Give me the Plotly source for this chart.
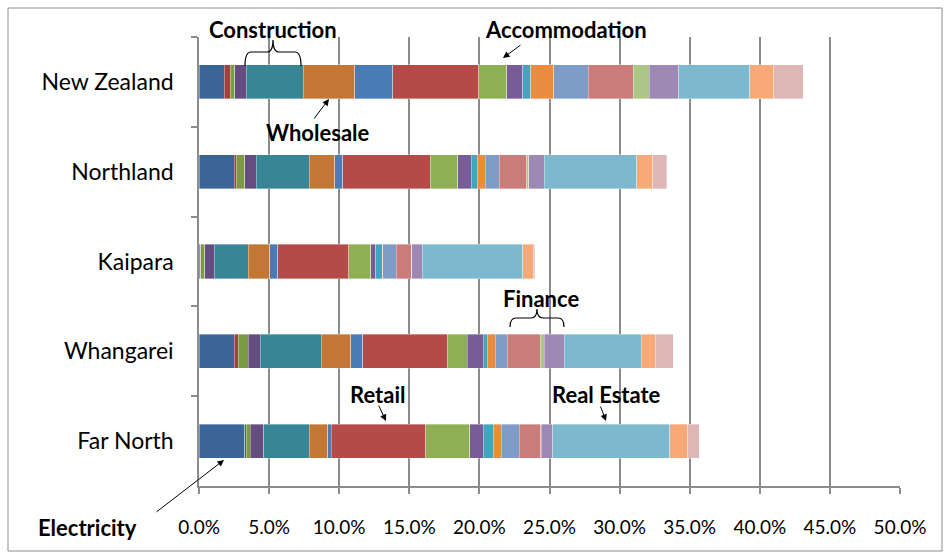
import plotly.graph_objects as go

# ---- data (percent share, stacked left -> right) ----
regions = ["New Zealand", "Northland", "Kaipara", "Whangarei", "Far North"]
industries = ["Electricity", "Industry 2", "Industry 3", "Industry 4", "Construction",
              "Wholesale", "Industry 7", "Retail", "Accommodation", "Industry 10",
              "Industry 11", "Industry 12", "Industry 13", "Finance", "Industry 15",
              "Finance (2)", "Real Estate", "Industry 18", "Industry 19"]
new_zealand = [1.80, 0.43, 0.31, 0.83, 4.06, 3.69, 2.69, 6.15, 1.99, 1.14, 0.57, 1.64, 2.45, 3.21, 1.16, 2.11, 5.04, 1.71, 2.12]
northland   = [2.52, 0.14, 0.60, 0.82, 3.78, 1.83, 0.57, 6.23, 1.97, 0.95, 0.43, 0.59, 0.97, 1.98, 0.14, 1.09, 6.61, 1.16, 1.00]
kaipara     = [0.10, 0.02, 0.29, 0.68, 2.42, 1.53, 0.59, 5.04, 1.57, 0.38, 0.44, 0.04, 0.96, 1.10, 0.02, 0.74, 7.17, 0.74, 0.12]
whangarei   = [2.52, 0.28, 0.71, 0.86, 4.35, 2.11, 0.84, 6.08, 1.40, 1.11, 0.29, 0.57, 0.85, 2.36, 0.31, 1.40, 5.49, 1.00, 1.29]
far_north   = [3.26, 0.11, 0.29, 0.97, 3.23, 1.31, 0.26, 6.75, 3.14, 0.94, 0.72, 0.57, 1.28, 1.53, 0.05, 0.82, 8.34, 1.28, 0.84]
x_ticks = [0, 5, 10, 15, 20, 25, 30, 35, 40, 45, 50]

colors = ["#3B6497", "#A2403D", "#7A9A44", "#654D80", "#388596", "#C37735", "#4A7BB5",
          "#B44B48", "#8FAF54", "#775C99", "#46A3BB", "#E98C3E", "#7E9CC8", "#C97C7A",
          "#ADC687", "#9D89B4", "#7DB9CE", "#F7A978", "#DEB6B6"]

rows = [new_zealand, northland, kaipara, whangarei, far_north]

W, H = 945, 559
L, R, T, B = 199, 900, 37, 486
FONT = "Lato"

fig = go.Figure()
for i, name in enumerate(industries):
    fig.add_trace(go.Bar(
        y=regions, x=[r[i] for r in rows], orientation="h", name=name,
        marker=dict(color=colors[i], line=dict(color="rgba(255,255,255,0.45)", width=0.8)),
        hoverinfo="x+y+name",
    ))

def px(x):
    return (x - L) / (R - L)

def py(y):
    return (B - y) / (B - T)

def brace(x0, x1, yb, yh, yt):
    xm = (x0 + x1) / 2
    r = 6
    pts = (f"M {px(x0)},{py(yb)} Q {px(x0)},{py(yh)} {px(x0 + r)},{py(yh)} "
           f"L {px(xm - r)},{py(yh)} Q {px(xm)},{py(yh)} {px(xm)},{py(yt)} "
           f"Q {px(xm)},{py(yh)} {px(xm + r)},{py(yh)} "
           f"L {px(x1 - r)},{py(yh)} Q {px(x1)},{py(yh)} {px(x1)},{py(yb)}")
    return dict(type="path", path=pts, xref="paper", yref="paper",
                line=dict(color="black", width=1.2))

shapes = [
    dict(type="rect", xref="paper", yref="paper", x0=px(8), x1=px(942), y0=py(551), y1=py(8),
         line=dict(color="#8C8C8C", width=1), layer="below"),
    brace(245, 301, 66, 52, 40),
    brace(510, 564, 327, 318, 309),
]

bold = dict(family=FONT, size=22, color="black")
texts = [
    ("<b>Construction</b>", 273, 29),
    ("<b>Accommodation</b>", 566, 29),
    ("<b>Wholesale</b>", 318, 132),
    ("<b>Finance</b>", 541, 298),
    ("<b>Retail</b>", 377, 394),
    ("<b>Real Estate</b>", 606, 394),
    ("<b>Electricity</b>", 87, 527),
]
annotations = [dict(text=t, x=px(x), y=py(y), xref="paper", yref="paper", showarrow=False,
                    font=bold, xanchor="center", yanchor="middle") for t, x, y in texts]

arrows = [  # tip (x,y) and tail (x,y) in pixels
    ((329, 99), (313, 120)),
    ((503, 58), (522, 44)),
    ((386, 421), (378, 404)),
    ((606, 421), (600, 405)),
    ((224, 460), (155, 513)),
]
for (tx, ty), (sx, sy) in arrows:
    annotations.append(dict(text="", x=px(tx), y=py(ty), xref="paper", yref="paper",
                            showarrow=True, ax=sx - tx, ay=sy - ty, arrowhead=2,
                            arrowsize=1.3, arrowwidth=1, arrowcolor="black"))

fig.update_layout(
    barmode="stack", bargap=0.62, showlegend=False,
    width=W, height=H,
    margin=dict(l=L, r=W - R, t=T, b=H - B),
    paper_bgcolor="white", plot_bgcolor="white",
    font=dict(family=FONT, color="black"),
    shapes=shapes, annotations=annotations,
    xaxis=dict(range=[0, 50], tickvals=x_ticks, ticktext=[f"{v:.1f}%" for v in x_ticks],
               showgrid=True, gridcolor="#8C8C8C", gridwidth=1.5, zeroline=False,
               showline=True, linecolor="#8C8C8C", linewidth=1.5,
               ticks="outside", ticklen=6, tickcolor="#8C8C8C", tickwidth=1.5,
               ticklabelstandoff=17, tickfont=dict(family=FONT, size=19, color="black")),
    yaxis=dict(categoryorder="array", categoryarray=regions, autorange="reversed",
               showgrid=False, showline=True, linecolor="#8C8C8C", linewidth=1.5,
               ticks="outside", tickson="boundaries", ticklen=6, tickcolor="#8C8C8C",
               tickwidth=1.5, ticklabelstandoff=19,
               tickfont=dict(family=FONT, size=23, color="black")),
)

fig.write_html("out.html", config={"displayModeBar": False},
               post_script="document.body.style.margin='0';")
